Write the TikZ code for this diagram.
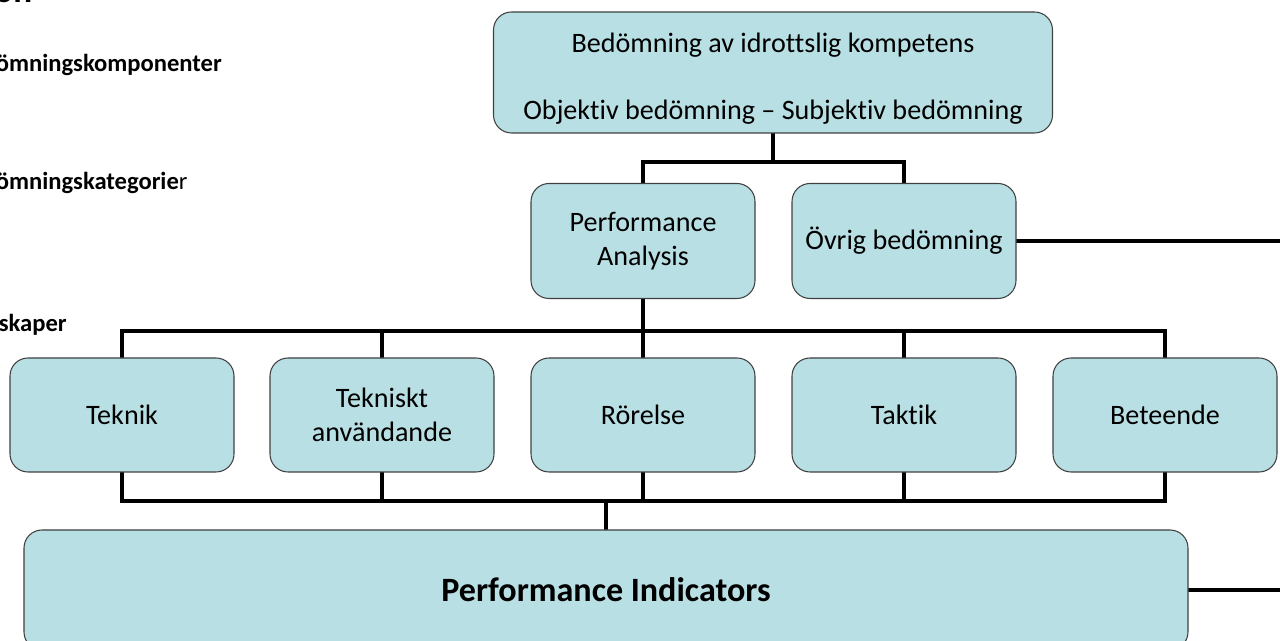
\documentclass[tikz,border=0pt]{standalone}
\usepackage{fontspec}
\setmainfont[Ligatures=NoCommon]{Carlito}
\usepackage{xcolor}
\usepackage{tikz}
\usetikzlibrary{
    positioning,
    calc,
    backgrounds
}
\definecolor{boxfill}{RGB}{184,223,227}

\begin{document}
\begin{tikzpicture}[
  font=\fontsize{16}{19}\selectfont,
  box/.style={draw=black!75, fill=boxfill, rounded corners=0.36cm, rectangle, line width=0.6pt,
              minimum height=2.3cm, minimum width=4.48cm, align=center, inner sep=3pt},
  link/.style={draw=black, line width=2.7pt, line cap=rect},
  side/.style={font=\fontsize{14}{16}\selectfont\bfseries, anchor=west, inner sep=0pt}
]
\useasboundingbox (0,0) rectangle (25.6,12.82);
\clip (0,0) rectangle (25.6,12.82);

% Top component
\node[box, minimum width=11.18cm, minimum height=2.42cm] (top) at (15.46,11.37)
  {\rule{0pt}{18pt}Bedömning av idrottslig kompetens\\[19pt]Objektiv bedömning -- Subjektiv bedömning};

% Categories
\node[box] (pa) at (12.86,8.0) {Performance\\Analysis};
\node[box] (ovrig) at (18.08,8.0) {Övrig bedömning};

% Properties row
\node[box, minimum height=2.28cm] (teknik) at (2.44,4.52) {Teknik};
\node[box, minimum height=2.28cm] (tekanv) at (7.64,4.52) {Tekniskt\\användande};
\node[box, minimum height=2.28cm] (rorelse) at (12.86,4.52) {Rörelse};
\node[box, minimum height=2.28cm] (taktik) at (18.08,4.52) {Taktik};
\node[box, minimum height=2.28cm] (beteende) at (23.3,4.52) {Beteende};

% Indicators
\node[box, minimum width=23.28cm, minimum height=2.4cm] (pind) at (12.12,1.02)
  {\fontsize{19.4}{22}\selectfont\bfseries Performance Indicators};

% Row labels
\node[side] (lbtitle) at (-0.12,12.95) {\fontsize{20}{22}\selectfont on};
\node[side] (lbkomp) at (-0.09,11.52) {ömningskomponenter};
\node[side] (lbkat) at (-0.09,9.16) {ömningskategorie{\mdseries r}};
\node[side] (lbegen) at (-0.03,6.32) {skaper};

% Bus levels and free ends
\coordinate (busA) at (15.46,9.58);
\coordinate (busB) at (12.86,6.2);
\coordinate (busC) at (12.12,2.8);
\coordinate (edgeR) at (25.9,0);

\begin{scope}[on background layer]
\draw[link] (top.south) -- (busA);
\draw[link] (pa.north) |- (busA) -| (ovrig.north);
\draw[link] (ovrig.east) -- (ovrig.east -| edgeR);
\draw[link] (pa.south) -- (busB);
\draw[link] (teknik.north |- busB) -- (beteende.north |- busB);
\foreach \n in {teknik,tekanv,rorelse,taktik,beteende} {
  \draw[link] (\n.north) -- (\n.north |- busB);
  \draw[link] (\n.south) -- (\n.south |- busC);
}
\draw[link] (teknik.south |- busC) -- (beteende.south |- busC);
\draw[link] (busC) -- (pind.north);
\draw[link] (pind.east) -- (pind.east -| edgeR);
\end{scope}

\end{tikzpicture}
\end{document}
